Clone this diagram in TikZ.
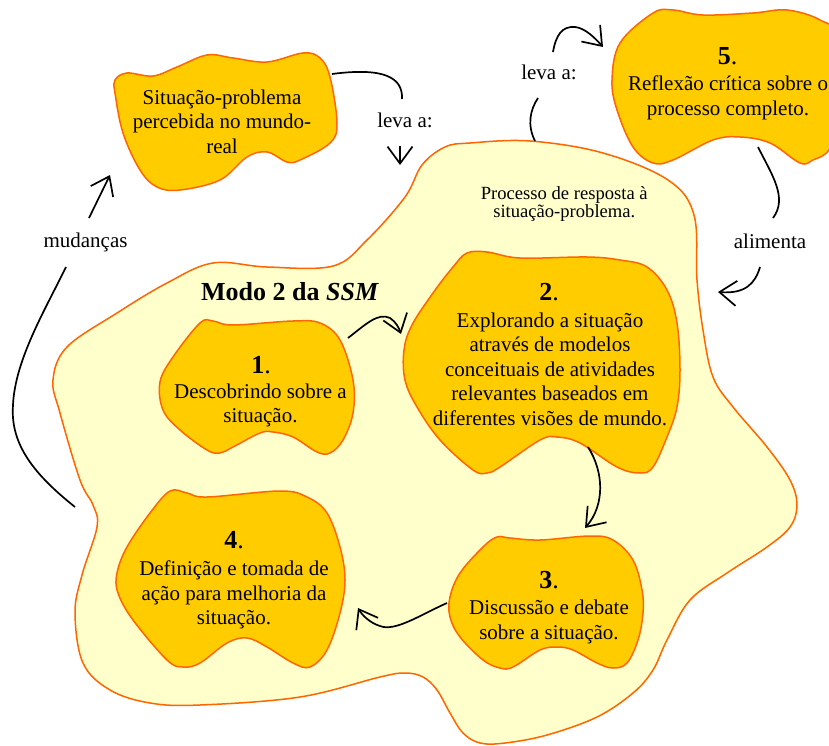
\documentclass[tikz,border=0pt]{standalone}
\usepackage{fontspec}
\setmainfont{Liberation Serif}
\usetikzlibrary{arrows.meta,calc}
\definecolor{orangeline}{HTML}{FF6600}
\definecolor{gold}{HTML}{FFCC00}
\definecolor{paleyellow}{HTML}{FFFFCC}
\tikzset{
  region/.style={draw=orangeline, fill=paleyellow, line width=1.5pt},
  blob/.style={draw=orangeline, fill=gold, line width=1.5pt},
  wire/.style={draw=black, line width=1.7pt},
  conn/.style={wire, -{Straight Barb[length=17pt,width=25pt]}},
  txt/.style={font=\fontsize{21}{24.5}\selectfont, align=center, inner sep=0pt, anchor=north},
  lab/.style={font=\fontsize{21}{24.5}\selectfont, inner sep=0pt, anchor=base},
  num/.style={font=\fontsize{26}{30}\selectfont, inner sep=0pt, anchor=base},
}
\begin{document}
\begin{tikzpicture}[x=1pt,y=-1pt]
\useasboundingbox (0,0) rectangle (829,746);

% big region
\draw[region] plot[smooth cycle, tension=0.6] coordinates {
 (470,143) (530,141) (603,153) (668,180) (694,215) (697,280) (703,330) (713,377)
 (733,407) (767,447) (790,480) (797,505) (790,527) (767,547) (727,573) (690,600)
 (667,640) (653,670) (633,693) (597,717) (547,735) (505,743) (480,743) (463,733)
 (450,713) (437,690) (423,677) (405,673) (380,677) (300,697) (200,705) (150,703)
 (110,690) (83,663) (75,613) (82,575) (97,527) (93,505) (80,480) (60,413) (53,380)
 (67,347) (117,313) (167,283) (213,263) (267,267) (333,266) (367,240) (405,197)
 (422,165) (445,147)};

% blob situacao-problema
\draw[blob] plot[smooth cycle, tension=0.6] coordinates {
 (115,80) (127,73) (153,76) (177,67) (207,55) (233,58) (267,62) (303,53) (320,58)
 (330,77) (337,123) (330,143) (300,160) (287,162) (267,152) (247,157) (220,180)
 (180,190) (157,187) (140,170) (123,133) (115,93)};

% blob 5
\draw[blob] plot[smooth cycle, tension=0.6] coordinates {
 (620,43) (653,13) (673,10) (703,15) (753,13) (787,10) (820,20) (840,40)
 (842,120) (829,150) (813,160) (800,163) (770,143) (740,137) (713,140) (673,160)
 (653,163) (633,147) (617,110) (612,80)};

% blob 1
\draw[blob] plot[smooth cycle, tension=0.6] coordinates {
 (173,357) (200,323) (213,321) (233,325) (293,321) (320,323) (340,340) (353,380)
 (353,413) (343,440) (330,453) (317,452) (293,437) (273,432) (260,433) (233,447)
 (220,453) (207,450) (180,430) (163,410) (160,382)};

% blob 2
\draw[blob] plot[smooth cycle, tension=0.6] coordinates {
 (433,293) (453,267) (467,253) (487,252) (520,258) (587,257) (620,260) (647,267)
 (667,290) (677,323) (680,370) (677,407) (667,437) (653,467) (640,473) (617,467)
 (580,443) (557,437) (540,440) (500,467) (487,473) (473,470) (440,440) (417,407)
 (405,380) (404,350) (412,325)};

% blob 3
\draw[blob] plot[smooth cycle, tension=0.6] coordinates {
 (460,573) (483,547) (497,537) (510,538) (540,540) (590,536) (613,540) (633,560)
 (642,590) (643,613) (638,640) (627,663) (613,668) (597,663) (573,650) (557,647)
 (540,650) (513,667) (500,668) (483,660) (460,637) (450,617) (450,597)};

% blob 4
\draw[blob] plot[smooth cycle, tension=0.6] coordinates {
 (127,547) (150,513) (170,491) (187,493) (207,497) (280,491) (307,497) (327,513)
 (340,547) (345,580) (340,613) (327,650) (310,667) (293,663) (267,647) (247,638)
 (227,643) (200,663) (183,667) (167,660) (133,620) (118,593) (117,573)};

% texts
\node[txt] (ts) at (222,89.7) {Situação-problema\\percebida no mundo-\\real};
\node[num] (n5) at (727.5,65) {\textbf{5}.};
\node[txt] (t5) at (728,75.7) {Reflexão crítica sobre o\\processo completo.};
\node[txt, font=\fontsize{18.6}{17.5}\selectfont] (proc) at (564.3,186.6) {Processo de resposta à\\situação-problema.};
\node[num] (modo) at (290,300.7) {\textbf{Modo 2 da \textit{SSM}}};
\node[num] (n1) at (261,373) {\textbf{1}.};
\node[txt] (t1) at (260.5,383.7) {Descobrindo sobre a\\situação.};
\node[num] (n2) at (549,300.7) {\textbf{2}.};
\node[txt] (t2) at (550,312.4) {Explorando a situação\\através de modelos\\conceituais de atividades\\relevantes baseados em\\diferentes visões de mundo.};
\node[num] (n3) at (549,588) {\textbf{3}.};
\node[txt] (t3) at (549,600) {Discussão e debate\\sobre a situação.};
\node[num] (n4) at (234,548) {\textbf{4}.};
\node[txt] (t4) at (234,560.7) {Definição e tomada de\\ação para melhoria da\\situação.};

% connector labels
\node[lab] (lev1) at (405,127.7) {leva a:};
\node[lab] (lev2) at (549,80) {leva a:};
\node[lab] (alim) at (770,248.3) {alimenta};
\node[lab] (mud) at (85.5,247.3) {mudanças};

% connector end points
\coordinate (s-out) at (332,74);
\coordinate (lev1-in) at (402,99);
\coordinate (lev1-out) at (400,146);
\coordinate (reg-top) at (400,165);
\coordinate (reg-up) at (535,141);
\coordinate (lev2-in) at (538,98);
\coordinate (lev2-out) at (553,52);
\coordinate (b5-in) at (603,47);
\coordinate (b5-out) at (758,147);
\coordinate (alim-in) at (773,218);
\coordinate (alim-out) at (760,267);
\coordinate (reg-right) at (718,292);
\coordinate (reg-left) at (75,507);
\coordinate (mud-in) at (66,267);
\coordinate (mud-out) at (89,218);
\coordinate (s-in) at (110,175);
\coordinate (b1-out) at (348,338);
\coordinate (b2-in) at (401,334);
\coordinate (b2-out) at (588,447);
\coordinate (b3-in) at (585,528);
\coordinate (b3-out) at (447,603);
\coordinate (b4-in) at (358,608);

% connectors
\draw[wire] (s-out) .. controls (385,67) and (403,78) .. (lev1-in);
\draw[conn] (lev1-out) -- (reg-top);
\draw[wire] (reg-up) .. controls (527,125) and (530,110) .. (lev2-in);
\draw[conn] (lev2-out) .. controls (556,35) and (562,26) .. (575,27) .. controls (585,28) and (595,38) .. (b5-in);
\draw[wire] (b5-out) .. controls (772,175) and (788,198) .. (alim-in);
\draw[conn] (alim-out) .. controls (755,284) and (745,294) .. (reg-right);
\draw[wire] (reg-left) .. controls (35,475) and (10,445) .. (13,405) .. controls (15,360) and (45,310) .. (mud-in);
\draw[conn] (mud-out) -- (s-in);
\draw[conn] (b1-out) .. controls (365,325) and (378,312) .. (390,318) .. controls (396,322) and (399,328) .. (b2-in);
\draw[conn] (b2-out) .. controls (604,472) and (605,505) .. (b3-in);
\draw[conn] (b3-out) .. controls (420,615) and (395,632) .. (380,626) .. controls (370,623) and (362,615) .. (b4-in);
\end{tikzpicture}
\end{document}
